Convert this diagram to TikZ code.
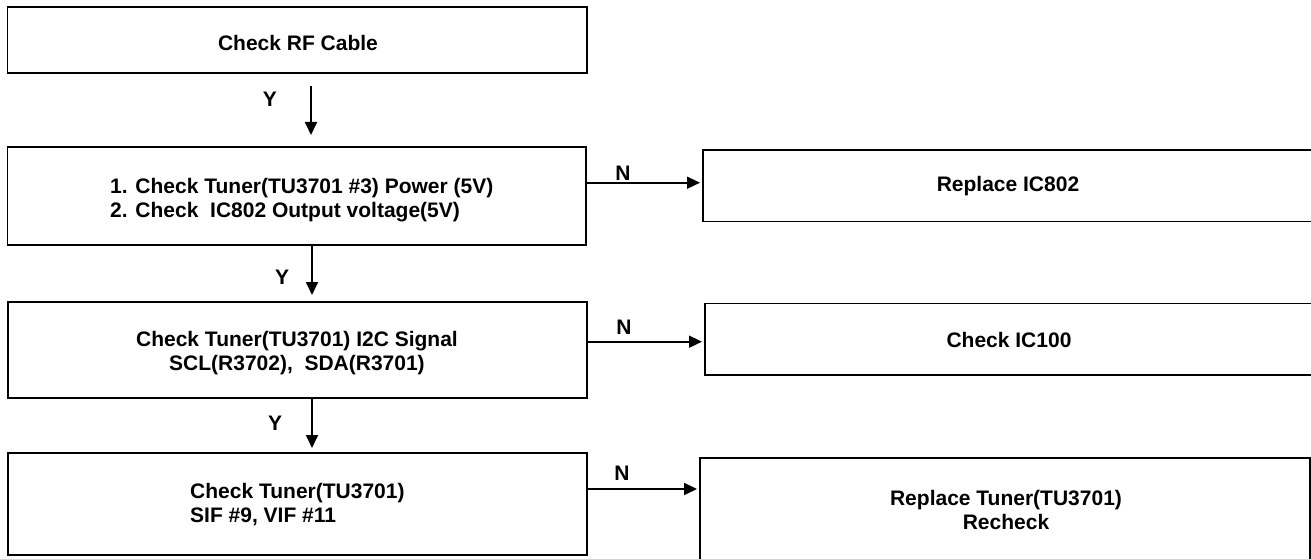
\documentclass[tikz,border=0pt]{standalone}
\usepackage{fontspec}
\setmainfont{Liberation Sans}
\usetikzlibrary{arrows.meta,fit}
\begin{document}
\begin{tikzpicture}[x=1pt,y=-1pt,
  box/.style={draw, line width=1.8pt, rectangle, inner sep=0pt, outer sep=0pt},
  txt/.style={font=\fontsize{21}{24}\selectfont\bfseries, inner sep=0pt, align=center},
  yn/.style={font=\fontsize{21}{24}\selectfont\bfseries, inner sep=0pt},
  arr/.style={line width=1.8pt, -{Triangle[length=13pt,width=12pt]}}]
\useasboundingbox (0,0) rectangle (1311,559);
% left column boxes
\node[box, fit={(7.5,7) (587,73)}] (b1) {};
\node[box, fit={(7.5,147) (586,245)}] (b2) {};
\node[box, fit={(8,302) (587,398)}] (b3) {};
\node[box, fit={(8,453) (587,555)}] (b4) {};
% right column boxes
\node[box, fit={(703,150) (1316,221.5)}] (r1) {};
\node[box, fit={(705,303.5) (1316,375)}] (r2) {};
\node[box, fit={(700,458) (1310,563)}] (r3) {};
% texts
\node[txt] (t1) at (298,43) {Check RF Cable};
\node[txt, anchor=west, align=left] (t2) at (110,200) {1. Check Tuner(TU3701 \#3) Power (5V)\\2. Check\ \ IC802 Output voltage(5V)};
\node[txt] (t3) at (297,353) {Check Tuner(TU3701) I2C Signal\\SCL(R3702),\ \ SDA(R3701)};
\node[txt, anchor=west, align=left] (t4) at (190,505) {Check Tuner(TU3701)\\SIF \#9, VIF \#11};
\node[txt] (s1) at (1008,186) {Replace IC802};
\node[txt] (s2) at (1009,340) {Check IC100};
\node[txt] (s3) at (1006,510) {Replace Tuner(TU3701)\\Recheck};
% free ends of the Y arrows
\coordinate (y1s) at (311,86);
\coordinate (y1e) at (311,135);
\coordinate (y2e) at (312,295);
\coordinate (y3e) at (312,448);
% Y arrows
\draw[arr] (y1s) -- (y1e);
\draw[arr] (b2.south -| y2e) -- (y2e);
\draw[arr] (b3.south -| y3e) -- (y3e);
\node[yn] (ly1) at (270,99) {Y};
\node[yn] (ly2) at (282,277) {Y};
\node[yn] (ly3) at (275,423) {Y};
% N arrows
\coordinate (n1) at (700,182.7);
\coordinate (n2) at (702,341.7);
\coordinate (n3) at (697,489);
\draw[arr] (b2.east |- n1) -- (n1);
\draw[arr] (b3.east |- n2) -- (n2);
\draw[arr] (b4.east |- n3) -- (n3);
\node[yn] (ln1) at (623,173) {N};
\node[yn] (ln2) at (624,327) {N};
\node[yn] (ln3) at (622,473) {N};
\end{tikzpicture}
\end{document}
